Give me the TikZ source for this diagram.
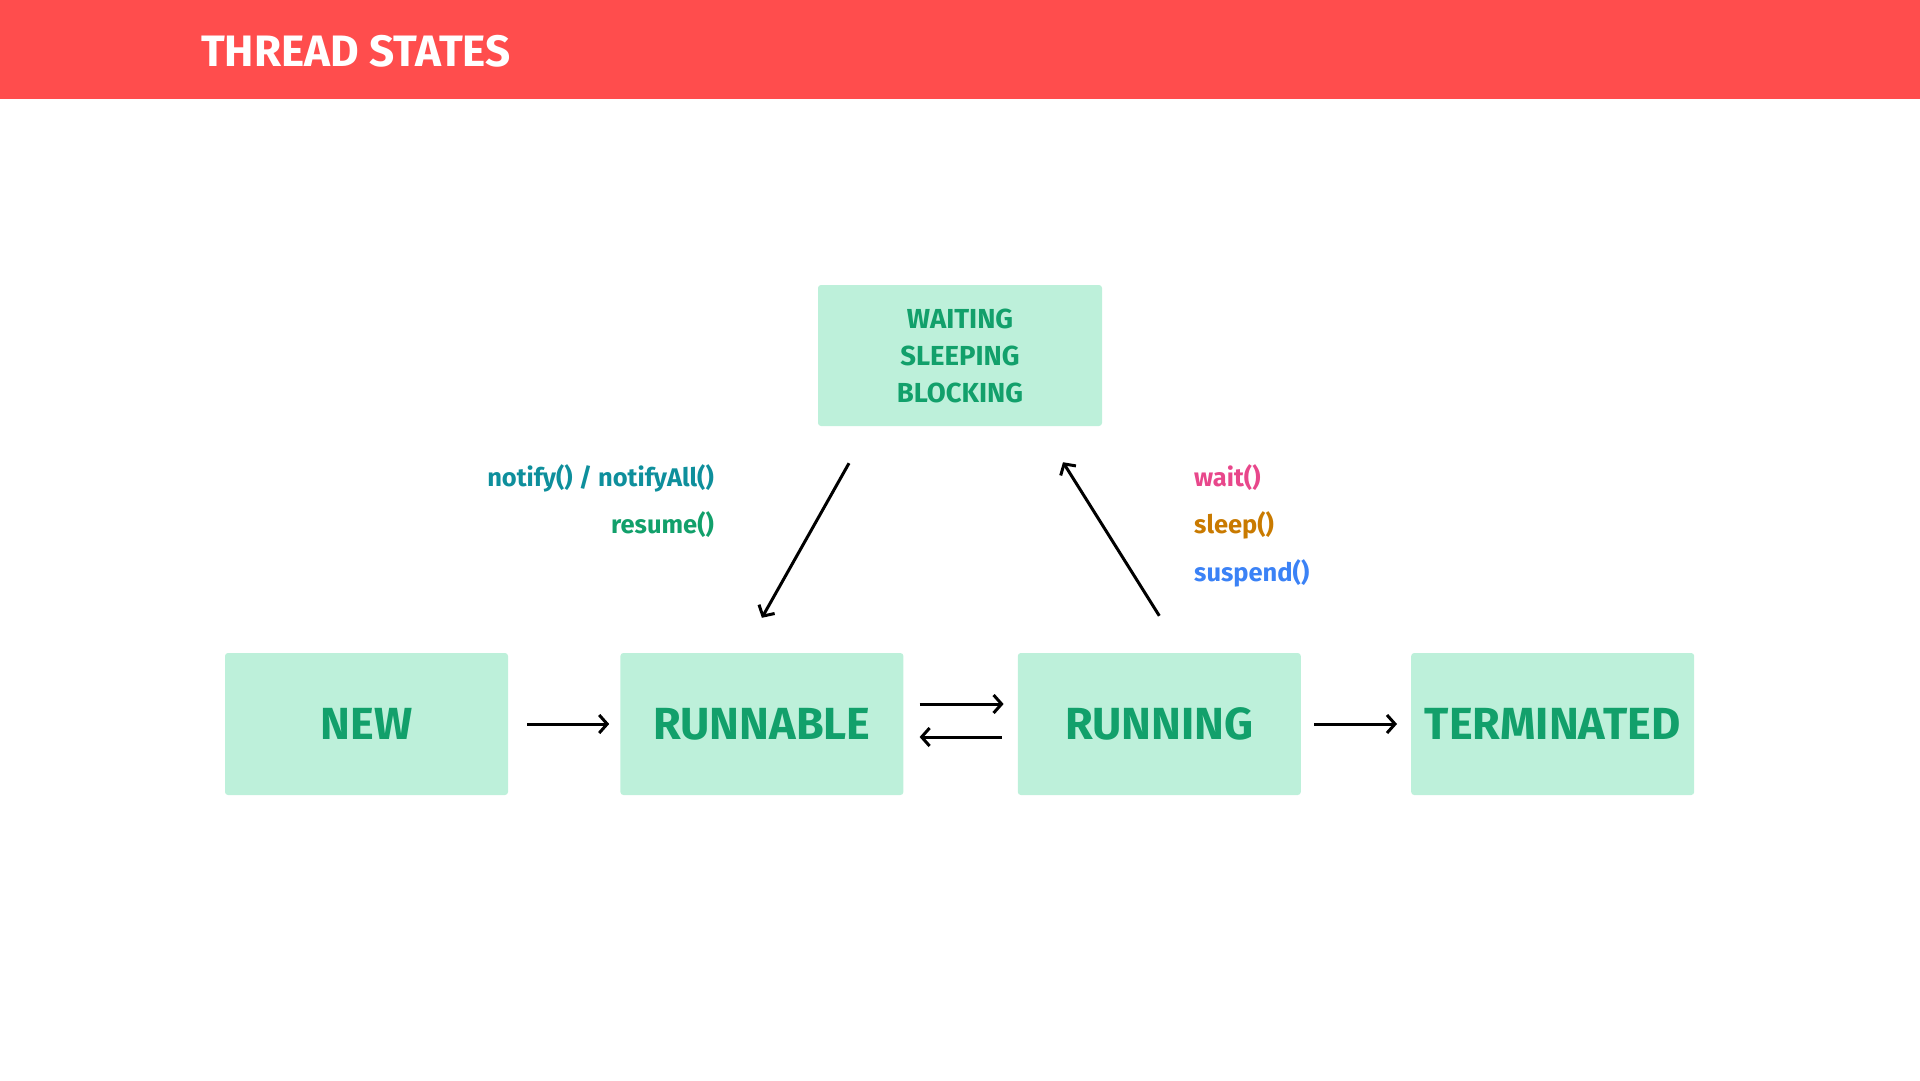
\documentclass[tikz,border=0pt]{standalone}
\usepackage{fontspec}
\setmainfont{Fira Sans}
\usetikzlibrary{arrows.meta,positioning}
\definecolor{headred}{HTML}{FF4D4D}
\definecolor{statefill}{HTML}{BDF0DA}
\definecolor{stategreen}{HTML}{12A06B}
\definecolor{notifyteal}{HTML}{0E8F9C}
\definecolor{waitpink}{HTML}{E8478B}
\definecolor{sleeporange}{HTML}{C97A00}
\definecolor{suspendblue}{HTML}{3B82F6}
\begin{document}
\begin{tikzpicture}[
  x=1pt, y=-1pt,
  node distance=112pt,
  state/.style ={fill=statefill, rounded corners=3pt, minimum width=283pt, minimum height=142pt,
                 inner xsep=2pt, text=stategreen, font=\bfseries\fontsize{45}{50}\selectfont},
  call/.style  ={inner sep=0pt, font=\bfseries\fontsize{25.5}{28}\selectfont},
  link/.style  ={->, line width=3pt},
  >={Straight Barb[length=8pt,width=18pt]}
]
\useasboundingbox (0,0) rectangle (1920,1080);
\fill[headred] (0,0) rectangle (1920,99);
\node[anchor=west, inner sep=0pt, text=white, font=\bfseries\fontsize{44}{48}\selectfont] (title) at (201,51) {THREAD STATES};

\node[state] (new) at (366.5,724) {NEW};
\node[state] (runnable) [right=112pt of new] {RUNNABLE};
\node[state] (running)  [right=114pt of runnable] {RUNNING};
\node[state] (term)     [right=110pt of running] {TERMINATED};

\node[state, minimum width=284pt, minimum height=141pt, align=center,
      font=\bfseries\fontsize{27.5}{37}\selectfont] (waiting) at (960,355.5)
  {WAITING\\SLEEPING\\BLOCKING};

\node[call, anchor=east, text=notifyteal]  (notify)  at (714,478) {notify() / notifyAll()};
\node[call, anchor=east, text=stategreen]  (resume)  at (714,525) {resume()};
\node[call, anchor=west, text=waitpink]    (wait)    at (1194,478) {wait()};
\node[call, anchor=west, text=sleeporange] (sleep)   at (1194,525) {sleep()};
\node[call, anchor=west, text=suspendblue] (suspend) at (1194,573) {suspend()};

\draw[link, shorten <=19pt, shorten >=11pt] (new.east) -- (runnable.west);
\draw[link, shorten <=16pt, shorten >=14pt] ([yshift=20pt]runnable.east) -- ([yshift=20pt]running.west);
\draw[link, shorten <=16pt, shorten >=16pt] ([yshift=-13pt]running.west) -- ([yshift=-13pt]runnable.east);
\draw[link, shorten <=13pt, shorten >=14pt] (running.east) -- (term.west);

\draw[link] ([xshift=-111pt,yshift=-37pt]waiting.south) -- ([yshift=35pt]runnable.north);
\draw[link] ([yshift=37pt]running.north) -- ([xshift=103pt,yshift=-36pt]waiting.south);
\end{tikzpicture}
\end{document}
